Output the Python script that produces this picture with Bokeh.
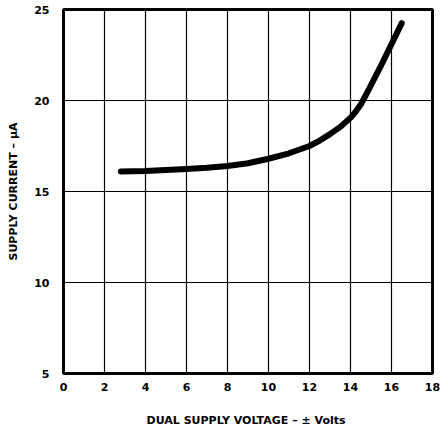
from bokeh.plotting import figure
from bokeh.models import FixedTicker, Range1d
from bokeh.embed import file_html
from bokeh.resources import INLINE

# Data
voltage = [2.8, 4, 5, 6, 7, 8, 9, 10, 11, 12, 12.5, 13, 13.5, 14, 14.25, 14.5, 14.75, 15, 15.5, 16, 16.5]
current = [16.1, 16.13, 16.18, 16.23, 16.3, 16.4, 16.55, 16.8, 17.1, 17.5, 17.8, 18.15, 18.55, 19.05, 19.38, 19.78, 20.3, 20.85, 21.95, 23.1, 24.25]
x_ticks = [0, 2, 4, 6, 8, 10, 12, 14, 16, 18]
y_ticks = [5, 10, 15, 20, 25]

FONT = "DejaVu Sans"

p = figure(width=440, height=429, output_backend="svg", toolbar_location=None,
           x_range=Range1d(0, 18), y_range=Range1d(5, 25),
           min_border_left=63, min_border_right=8, min_border_top=9, min_border_bottom=56)
p.background_fill_color = "white"
p.border_fill_color = "white"
p.outline_line_color = "black"
p.outline_line_width = 3
p.outline_line_alpha = 1.0

p.line(voltage, current, line_color="black", line_width=6, line_cap="round", line_join="round")

p.xaxis.ticker = FixedTicker(ticks=x_ticks)
p.yaxis.ticker = FixedTicker(ticks=y_ticks)
for ax in (p.xaxis, p.yaxis):
    ax.axis_line_color = None
    ax.major_tick_line_color = None
    ax.minor_tick_line_color = None
    ax.major_label_text_font = FONT
    ax.major_label_text_font_style = "bold"
    ax.major_label_text_font_size = "11px"
    ax.major_label_text_color = "black"
    ax.axis_label_text_font = FONT
    ax.axis_label_text_font_style = "bold"
    ax.axis_label_text_font_size = "11px"
    ax.axis_label_text_color = "black"

p.xaxis.axis_label = "DUAL SUPPLY VOLTAGE \u2013  \u00b1 Volts"
p.yaxis.axis_label = "SUPPLY CURRENT \u2013 \u00b5A"
p.xaxis.major_label_standoff = 3
p.yaxis.major_label_standoff = 8
p.xaxis.axis_label_standoff = 20
p.yaxis.axis_label_standoff = 11

p.xgrid.ticker = FixedTicker(ticks=x_ticks)
p.ygrid.ticker = FixedTicker(ticks=y_ticks)
p.grid.grid_line_color = "black"
p.grid.grid_line_width = 1.2
p.grid.grid_line_alpha = 1.0

open("out.html", "w").write(file_html(p, INLINE))
